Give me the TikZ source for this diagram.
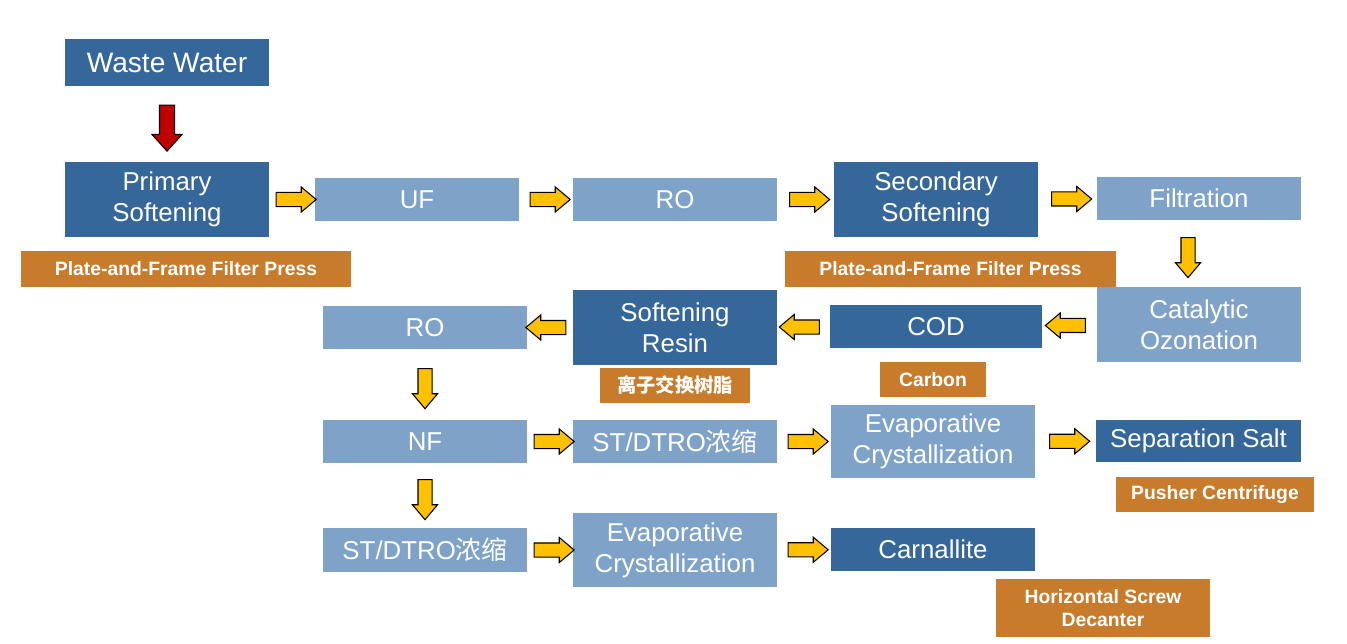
\documentclass[tikz,border=0pt]{standalone}
\usepackage{fontspec}
\setmainfont{Liberation Sans}
\newfontfamily\cjk{Noto Sans CJK SC}
\usetikzlibrary{shapes.arrows}

\definecolor{darkblue}{RGB}{53,103,154}
\definecolor{lightblue}{RGB}{127,163,200}
\definecolor{toolorange}{RGB}{199,123,43}
\definecolor{arrowyellow}{RGB}{255,192,0}
\definecolor{arrowred}{RGB}{192,0,0}

\tikzset{
	procbox/.style={inner sep=0pt, align=center, text=white, minimum width=4.08cm, minimum height=0.86cm,
		font=\fontsize{14.7}{17.5}\selectfont},
	darkbox/.style={procbox, fill=darkblue},
	lightbox/.style={procbox, fill=lightblue},
	tall/.style={minimum height=1.5cm},
	toolbox/.style={inner sep=0pt, align=center, text=white, fill=toolorange, minimum height=0.7cm,
		font=\fontsize{11}{13.5}\selectfont\bfseries},
	yarrow/.style={single arrow, draw=black, line width=0.6pt, fill=arrowyellow, inner sep=0.13cm,
		minimum height=0.8cm, single arrow head extend=0.11cm, single arrow tip angle=80},
	rarrow/.style={single arrow, draw=black, line width=0.6pt, fill=arrowred, inner sep=0.14cm,
		minimum height=0.92cm, single arrow head extend=0.15cm, single arrow tip angle=84, shape border rotate=270}
}

\begin{document}
\begin{tikzpicture}
			\useasboundingbox (0,0) rectangle (26.94,-12.88);
			% first row
			\node[darkbox, minimum height=0.94cm, font=\fontsize{16}{19}\selectfont] (ww) at (3.34,-1.25) {Waste Water};
			\node[darkbox, tall] (prim) at (3.34,-3.99) {Primary\\Softening};
			\node[lightbox] (uf) at (8.34,-3.99) {UF};
			\node[lightbox] (ro1) at (13.50,-3.99) {RO};
			\node[darkbox, tall] (sec) at (18.72,-3.99) {Secondary\\Softening};
			\node[lightbox] (filt) at (23.98,-3.97) {Filtration};
			\node[toolbox, minimum width=6.6cm, minimum height=0.72cm] (pf1) at (3.72,-5.38) {Plate-and-Frame Filter Press};
			\node[toolbox, minimum width=6.62cm, minimum height=0.72cm] (pf2) at (19.01,-5.38) {Plate-and-Frame Filter Press};
			% second row
			\node[lightbox, tall] (cat) at (23.98,-6.49) {Catalytic\\Ozonation};
			\node[darkbox, minimum width=4.24cm] (cod) at (18.72,-6.53) {COD};
			\node[darkbox, tall] (resin) at (13.50,-6.55) {Softening\\Resin};
			\node[lightbox] (ro2) at (8.50,-6.55) {RO};
			\node[toolbox, minimum width=2.12cm] (carbon) at (18.66,-7.59) {Carbon};
			\node[toolbox, minimum width=3.0cm] (ion) at (13.50,-7.71) {\cjk\bfseries 离子交换树脂};
			% third row
			\node[lightbox] (nf) at (8.50,-8.83) {NF};
			\node[lightbox] (st1) at (13.50,-8.83) {ST/DTRO{\cjk 浓缩}};
			\node[lightbox, minimum height=1.46cm] (evap1) at (18.66,-8.83) {Evaporative\\Crystallization};
			\node[darkbox, minimum width=4.1cm, minimum height=0.84cm] (salt) at (23.97,-8.82) {Separation Salt};
			\node[toolbox, minimum width=3.96cm] (pusher) at (24.30,-9.89) {Pusher Centrifuge};
			% fourth row
			\node[lightbox, minimum height=0.88cm] (st2) at (8.50,-11.00) {ST/DTRO{\cjk 浓缩}};
			\node[lightbox, minimum height=1.48cm] (evap2) at (13.50,-11.00) {Evaporative\\Crystallization};
			\node[darkbox] (carn) at (18.66,-10.99) {Carnallite};
			\node[toolbox, minimum width=4.28cm, minimum height=1.16cm] (hsd) at (22.06,-12.16) {Horizontal Screw\\Decanter};
			% arrows
			\path (ww) -- node[rarrow] {} (prim);
			\path (prim) -- node[yarrow] {} (uf);
			\path (uf) -- node[yarrow] {} (ro1);
			\path (ro1) -- node[yarrow] {} (sec);
			\path (sec) -- node[yarrow] {} (filt);
			\path ([xshift=-0.22cm]filt.south) -- node[yarrow, shape border rotate=270] {} ([xshift=-0.22cm]cat.north);
			\path (cat) -- node[yarrow, shape border rotate=180] {} (cod);
			\path (cod) -- node[yarrow, shape border rotate=180] {} (resin);
			\path (resin) -- node[yarrow, shape border rotate=180] {} (ro2);
			\path (ro2) -- node[yarrow, shape border rotate=270] {} (nf);
			\path (nf) -- node[yarrow] {} (st1);
			\path (st1) -- node[yarrow] {} (evap1);
			\path (evap1) -- node[yarrow] {} (salt);
			\path (nf) -- node[yarrow, shape border rotate=270] {} (st2);
			\path (st2) -- node[yarrow] {} (evap2);
			\path (evap2) -- node[yarrow] {} (carn);
		\end{tikzpicture}
\end{document}
